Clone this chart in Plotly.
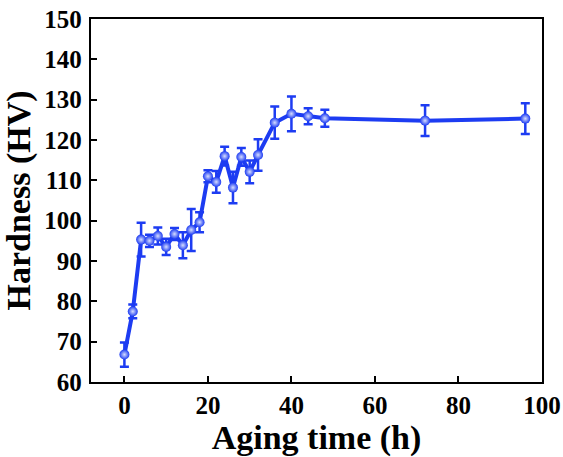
import plotly.graph_objects as go

# aging time (h) and Vickers hardness with error bars
aging_time = [0, 2, 4, 6, 8, 10, 12, 14, 16, 18, 20, 22, 24, 26, 28, 30, 32, 36, 40, 44, 48, 72, 96]
hardness = [66.8, 77.5, 95.3, 95.0, 96.2, 93.5, 96.7, 93.9, 97.7, 99.6, 111.0, 109.6, 116.0, 108.2, 115.8, 112.1, 116.3, 124.3, 126.5, 125.9, 125.4, 124.8, 125.3]
hardness_err = [3.0, 1.7, 4.2, 1.5, 2.1, 2.0, 1.5, 3.2, 5.2, 2.5, 1.5, 2.7, 2.3, 3.9, 2.2, 2.8, 3.9, 4.0, 4.3, 2.0, 2.1, 3.8, 3.8]

x_ticks = [0, 20, 40, 60, 80, 100]
y_ticks = [60, 70, 80, 90, 100, 110, 120, 130, 140, 150]

blue = "#1d3cf2"
font = "Liberation Serif"

fig = go.Figure()
fig.add_trace(go.Scatter(
    x=aging_time, y=hardness,
    mode="lines+markers",
    line=dict(color=blue, width=4),
    marker=dict(size=10, color=blue, line=dict(width=0),
                gradient=dict(type="radial", color="#d6ddff")),
    error_y=dict(type="data", array=hardness_err, color=blue, thickness=2.5, width=4.5),
    showlegend=False,
))

axis_common = dict(
    showline=True, linecolor="black", linewidth=2.3, mirror=True,
    ticks="inside", ticklen=6, tickwidth=2, tickcolor="black",
    showgrid=False, zeroline=False,
    tickfont=dict(family=font, size=25, color="black", weight="bold"),
)

fig.update_layout(
    width=563, height=457,
    margin=dict(l=91, r=21, t=19, b=75, autoexpand=False),
    paper_bgcolor="white", plot_bgcolor="white",
    xaxis=dict(range=[-8, 100], tickvals=x_ticks, ticklabelstandoff=0,
               title=dict(text="<b>Aging time (h)</b>", font=dict(family=font, size=34, color="black"), standoff=0),
               **axis_common),
    yaxis=dict(range=[60, 150], tickvals=y_ticks, ticklabelstandoff=2,
               title=dict(text="<b>Hardness (HV)</b>", font=dict(family=font, size=34, color="black"), standoff=8),
               **axis_common),
)

# drop the default body margin so the figure fills the window exactly
fig.write_html("out.html", config={"displayModeBar": False},
               post_script="document.body.style.margin='0';document.body.style.overflow='hidden';")
